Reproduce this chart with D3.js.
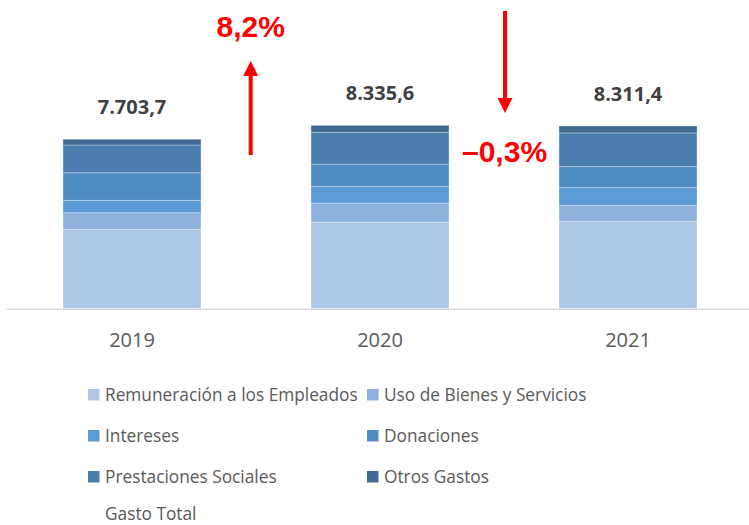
<!DOCTYPE html>
<html>
<head>
<meta charset="utf-8">
<script src="https://cdn.jsdelivr.net/npm/d3@7"></script>
<style>
  html, body { margin: 0; padding: 0; background: #ffffff; }
  svg { display: block; }
</style>
</head>
<body>
<svg id="chart" width="749" height="525"></svg>
<script>
// ---- Data ----
const years = ["2019", "2020", "2021"];
const remuneracion = [3601, 3931, 3970];
const usoBienes = [757, 865, 729];
const intereses = [565, 761, 806];
const donaciones = [1258, 1016, 957];
const prestaciones = [1262, 1444, 1531];
const otrosGastos = [260.7, 318.6, 318.4];
const gastoTotal = [7703.7, 8335.6, 8311.4];
const totalLabels = ["7.703,7", "8.335,6", "8.311,4"];
const changeLabels = ["8,2%", "\u20130,3%"];
const seriesNames = ["Remuneración a los Empleados", "Uso de Bienes y Servicios", "Intereses",
                     "Donaciones", "Prestaciones Sociales", "Otros Gastos"];
const legendExtra = "Gasto Total";

// ---- Styles ----
const colors = ["#adc6e6", "#8db1dd", "#5b9bd5", "#4f8cc3", "#4a7eae", "#426a93"];
const seriesValues = [remuneracion, usoBienes, intereses, donaciones, prestaciones, otrosGastos];

const svg = d3.select("#chart");

const x = d3.scaleBand().domain(years).range([8, 752]).paddingInner(0.4435).paddingOuter(0.22175);
const y = d3.scaleLinear().domain([0, 9000]).range([308.5, 110.8]);

// table for stack
const table = years.map((yr, i) => {
  const row = { year: yr };
  seriesNames.forEach((s, j) => row[s] = seriesValues[j][i]);
  return row;
});
const stacked = d3.stack().keys(seriesNames)(table);

// axis baseline
svg.append("line")
  .attr("x1", 7).attr("x2", 749)
  .attr("y1", 309.3).attr("y2", 309.3)
  .attr("stroke", "#d9d9d9").attr("stroke-width", 1.5);

// bars
const layers = svg.append("g").selectAll("g").data(stacked).join("g")
  .attr("fill", (d, i) => colors[i]);
layers.selectAll("rect").data(d => d).join("rect")
  .attr("x", d => x(d.data.year))
  .attr("width", x.bandwidth())
  .attr("y", d => y(d[1]))
  .attr("height", d => y(d[0]) - y(d[1]))
  .attr("stroke", "#ffffff").attr("stroke-opacity", 0.3).attr("stroke-width", 1);

// total labels
svg.append("g").selectAll("text").data(years).join("text")
  .attr("x", d => x(d) + x.bandwidth() / 2)
  .attr("y", (d, i) => y(gastoTotal[i]) - 25)
  .attr("text-anchor", "middle")
  .attr("font-family", "Open Sans, sans-serif")
  .attr("font-weight", 700)
  .attr("font-size", 20)
  .attr("fill", "#404040")
  .text((d, i) => totalLabels[i]);

// x axis labels
const xAxis = d3.axisBottom(x).tickSize(0).tickPadding(0);
const gx = svg.append("g").attr("transform", "translate(0,333)").call(xAxis);
gx.select(".domain").remove();
gx.selectAll("text")
  .attr("font-family", "Open Sans, sans-serif")
  .attr("font-size", 20)
  .attr("fill", "#595959");

// change arrows & labels
const red = "#ff0000";
function arrow(x0, yFrom, yTo) {
  const dir = yTo < yFrom ? -1 : 1;
  const headLen = 15, headHalf = 7.5;
  svg.append("line")
    .attr("x1", x0).attr("x2", x0)
    .attr("y1", yFrom).attr("y2", yTo - dir * headLen + dir * 1)
    .attr("stroke", red).attr("stroke-width", 4);
  svg.append("path")
    .attr("d", `M${x0 - headHalf},${yTo - dir * headLen} L${x0 + headHalf},${yTo - dir * headLen} L${x0},${yTo} Z`)
    .attr("fill", red);
}
arrow(250.7, 155, 61);
arrow(505, 11, 113);

svg.append("text")
  .attr("x", 216.5).attr("y", 37)
  .attr("font-family", "Liberation Sans, Arial, sans-serif")
  .attr("font-weight", 700).attr("font-size", 30)
  .attr("fill", red).text(changeLabels[0]);
svg.append("text")
  .attr("x", 462).attr("y", 161.5)
  .attr("font-family", "Liberation Sans, Arial, sans-serif")
  .attr("font-weight", 700).attr("font-size", 30)
  .attr("fill", red).text(changeLabels[1]);

// legend
const legendItems = seriesNames.map((n, i) => ({ name: n, color: colors[i] }));
legendItems.push({ name: legendExtra, color: null });
const colX = [88, 367];
const rowY = [400.5, 441.5, 482.5, 520];
const lg = svg.append("g").selectAll("g").data(legendItems).join("g")
  .attr("transform", (d, i) => `translate(${colX[i % 2]},${rowY[Math.floor(i / 2)]})`);
lg.filter(d => d.color).append("rect")
  .attr("x", 0).attr("y", -11.5).attr("width", 11.5).attr("height", 11.5)
  .attr("fill", d => d.color);
lg.append("text")
  .attr("x", 17).attr("y", 0)
  .attr("font-family", "Open Sans, sans-serif")
  .attr("font-size", 17.3)
  .attr("fill", "#595959")
  .text(d => d.name);
</script>
</body>
</html>
